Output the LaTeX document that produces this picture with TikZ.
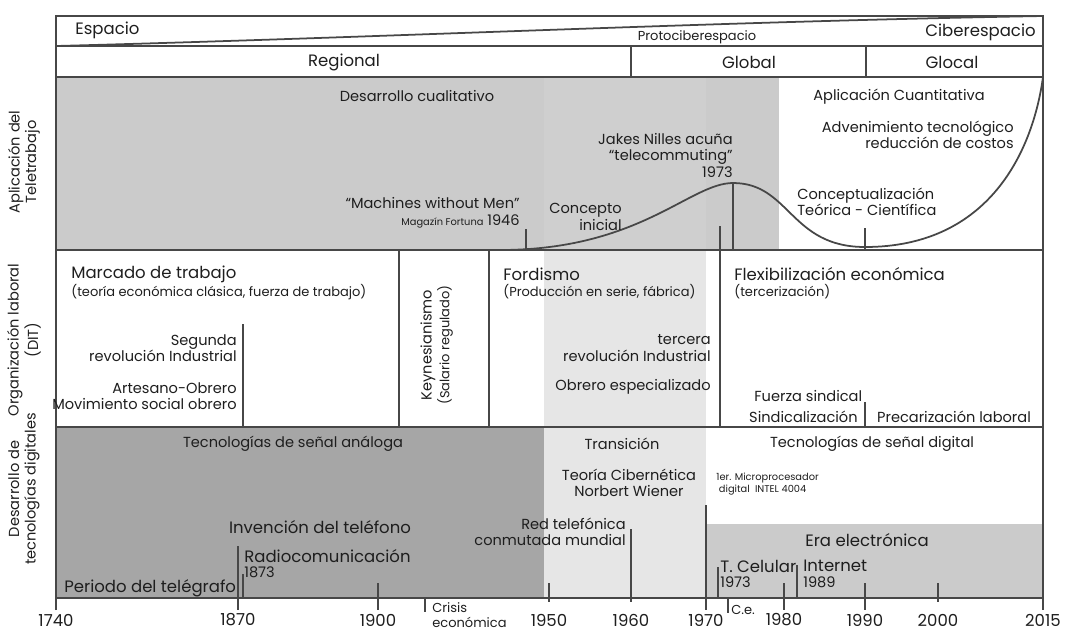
\documentclass[tikz,border=0pt]{standalone}
\usepackage{fontspec}
\setmainfont{Poppins}
\usetikzlibrary{positioning}
\definecolor{lineGray}{HTML}{474747}
\definecolor{fillMid}{HTML}{CBCBCB}
\definecolor{fillBand}{HTML}{CFCFCF}
\definecolor{fillLight}{HTML}{E6E6E6}
\definecolor{fillDark}{HTML}{A6A6A6}
\definecolor{textGray}{HTML}{1E1E1E}
% frame (pixel units, y down)
\newcommand*{\xL}{56}
\newcommand*{\xR}{1043}
\newcommand*{\yTop}{16}
\newcommand*{\yA}{46}
\newcommand*{\yB}{77}
\newcommand*{\yC}{250}
\newcommand*{\yD}{427}
\newcommand*{\yAxis}{598}
\newcommand\DrawMarks[1]{
	\foreach \px/\ya/\yb in {#1}
	{
		\draw [tickline] (\px,\ya) -- (\px,\yb);
	}
}
\tikzset{
	tickline/.style={draw=lineGray, line width=0.7pt},
	bigtext/.style={text=textGray, font=\fontsize{9.4}{11}\selectfont, inner sep=0pt},
	medtext/.style={text=textGray, font=\fontsize{8.3}{9.4}\selectfont, inner sep=0pt},
	smalltext/.style={text=textGray, font=\fontsize{7.4}{8.6}\selectfont, inner sep=0pt},
	tinytext/.style={text=textGray, font=\fontsize{5.6}{6.9}\selectfont, inner sep=0pt},
}

\begin{document}
\begin{tikzpicture}[x=0.02cm, y=-0.02cm]
	\useasboundingbox (0,0) rectangle (1066,630);
% fills
	\fill [fillMid] (\xL,\yB) rectangle (779,\yC);
	\fill [fillBand] (544,\yB) rectangle (706,\yC);
	\fill [fillLight] (544,\yC) rectangle (706,\yD);
	\fill [fillDark] (\xL,\yD) rectangle (544,\yAxis);
	\fill [fillLight] (544,\yD) rectangle (706,\yAxis);
	\fill [fillMid] (706,524) rectangle (\xR,\yAxis);
% frame and rows
	\draw [tickline] (\xL,610) -- (\xL,\yTop) -- (\xR,\yTop) -- (\xR,610);
	\foreach \yy in {\yA,\yB,\yC,\yD,\yAxis}
	{
		\draw [tickline] (\xL,\yy) -- (\xR,\yy);
	}
	\draw [tickline, line width=1pt] (\xL,\yA) .. controls (400,37) and (700,22) .. (\xR,\yTop);
	\draw [tickline] (631,\yA) -- (631,\yB);
	\draw [tickline] (866,\yA) -- (866,\yB);
% curve
	\draw [tickline, line width=1pt] (500,\yC) .. controls (640,\yC) and (690,183) .. (733,183)
		.. controls (790,183) and (790,247) .. (865,247)
		.. controls (990,247) and (1033,150) .. (\xR,\yB);
% marks
	\DrawMarks{526/229/\yC, 720/226/\yD, 733/183/\yC, 865/228/\yC}
	\DrawMarks{243/324/\yD, 399/\yC/\yD, 489/\yC/\yD, 865/402/\yD}
	\DrawMarks{238/546/610, 243/574/\yAxis, 378/583/610, 549/583/602, 631/529/602, 706/505/610, 718/567/\yAxis, 784/583/610, 797/565/\yAxis, 865/583/610, 938/583/602}
	\DrawMarks{425/\yAxis/612, 728/\yAxis/613}
% side labels
	\node [medtext, rotate=90, align=center] (lblApp) at (24,162) {Aplicación del\\Teletrabajo};
	\node [medtext, rotate=90, align=center] (lblOrg) at (24,340) {Organización laboral\\(DIT)};
	\node [medtext, rotate=90, align=center] (lblTec) at (24,489) {Desarrollo de\\tecnologías digitales};
% top rows
	\node [bigtext, anchor=west] (espacio) at (75,30) {Espacio};
	\node [smalltext] (proto) at (697,37) {Protociberespacio};
	\node [bigtext, anchor=east] (cyber) at (1036,32) {Ciberespacio};
	\node [bigtext] (regional) at (344,62) {Regional};
	\node [bigtext] (global) at (749,62) {Global};
	\node [bigtext] (glocal) at (952,62) {Glocal};
% teletrabajo
	\node [medtext] (cualitativo) at (417,96) {Desarrollo cualitativo};
	\node [medtext] (cuantitativa) at (899,97) {Aplicación Cuantitativa};
	\node [medtext, anchor=east, align=right] (advenimiento) at (1014,135) {Advenimiento tecnológico\\reducción de costos};
	\node [medtext, anchor=east, align=right] (nilles) at (733,155) {Jakes Nilles acuña\\“telecommuting”\\1973};
	\node [medtext, anchor=east, align=right] (concepto) at (622,217) {Concepto\\inicial};
	\node [medtext, anchor=west, align=left] (teorica) at (797,202) {Conceptualización\\Teórica - Científica};
	\node [medtext, anchor=east, align=right] (machines) at (520,213) {“Machines without Men”\\{\fontsize{5.6}{6}\selectfont Magazín Fortuna} 1946};
% organizacion laboral
	\node [bigtext, anchor=west] (marcado) at (71,274) {Marcado de trabajo};
	\node [smalltext, anchor=west] (clasica) at (71,292) {(teoría económica clásica, fuerza de trabajo)};
	\node [medtext, anchor=east, align=right] (segunda) at (237,348) {Segunda\\revolución Industrial};
	\node [medtext, anchor=east, align=right] (artesano) at (237,396) {Artesano-Obrero\\Movimiento social obrero};
	\node [medtext, rotate=90] (keynes) at (428,345) {Keynesianismo};
	\node [smalltext, rotate=90] (salario) at (445,345) {(Salario regulado)};
	\node [bigtext, anchor=west] (fordismo) at (503,274) {Fordismo};
	\node [smalltext, anchor=west] (serie) at (503,292) {(Producción en serie, fábrica)};
	\node [medtext, anchor=east, align=right] (tercera) at (711,348) {tercera\\revolución Industrial};
	\node [medtext, anchor=east] (especializado) at (711,387) {Obrero especializado};
	\node [bigtext, anchor=west] (flexible) at (734,274) {Flexibilización económica};
	\node [smalltext, anchor=west] (tercerizacion) at (734,292) {(tercerización)};
	\node [medtext, anchor=west] (fuerza) at (754,396) {Fuerza sindical};
	\node [medtext, anchor=east] (sindical) at (858,417) {Sindicalización};
	\node [medtext] (precario) at (954,417) {Precarización laboral};
% tecnologias
	\node [medtext] (analoga) at (293,444) {Tecnologías de señal análoga};
	\node [bigtext] (telefono) at (320,527) {Invención del teléfono};
	\node [bigtext, anchor=west] (radio) at (244,556) {Radiocomunicación};
	\node [medtext, anchor=west] (radioYr) at (244,572) {1873};
	\node [bigtext, anchor=west] (telegrafo) at (64,588) {Periodo del telégrafo};
	\node [medtext] (transicion) at (622,444) {Transición};
	\node [medtext, align=center] (wiener) at (629,483) {Teoría Cibernética\\Norbert Wiener};
	\node [medtext, anchor=east, align=right] (red) at (626,532) {Red telefónica\\conmutada mundial};
	\node [medtext] (digital) at (872,444) {Tecnologías de señal digital};
	\node [tinytext, anchor=west, align=left] (intel) at (716,484) {1er. Microprocesador\\\ digital\ \ INTEL 4004};
	\node [bigtext] (electronica) at (867,540) {Era electrónica};
	\node [bigtext, anchor=west] (celular) at (720,566) {T. Celular};
	\node [medtext, anchor=west] (celularYr) at (720,582) {1973};
	\node [bigtext, anchor=west] (internet) at (803,566) {Internet};
	\node [medtext, anchor=west] (internetYr) at (803,582) {1989};
% axis
	\foreach \px/\yr in {56/1740, 238/1870, 378/1900, 549/1950, 631/1960, 706/1970, 784/1980, 865/1990, 938/2000, 1043/2015}
	{
		\node [bigtext] (yr\yr) at (\px,620) {\yr};
	}
	\node [smalltext, anchor=west, align=left] (crisis) at (432,615) {Crisis\\económica};
	\node [smalltext, anchor=west] (ce) at (731,610) {C.e.};
\end{tikzpicture}
\end{document}
